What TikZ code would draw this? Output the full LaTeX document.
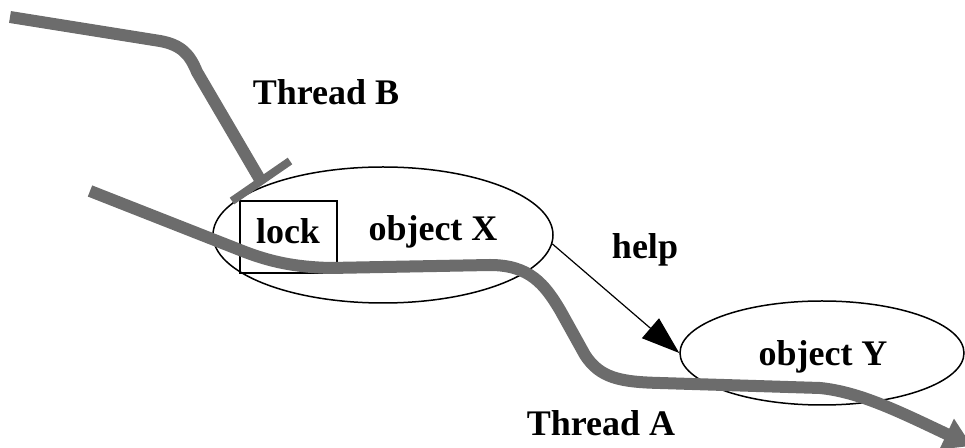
\documentclass[tikz,border=0pt]{standalone}
\usepackage{fontspec}
\setmainfont{Liberation Serif}
\usetikzlibrary{shapes.geometric,arrows.meta}
\definecolor{thread}{RGB}{108,108,108}
\begin{document}
\begin{tikzpicture}[x=0.5pt,y=-0.5pt,
  lbl/.style={font=\bfseries\fontsize{18}{21}\selectfont, inner sep=0pt},
  obj/.style={draw, ellipse, line width=0.75pt, fill=white, inner sep=0pt},
  thr/.style={draw=thread, line width=6pt, line join=round},
  helparrow/.style={line width=0.6pt, -{Triangle[length=19pt,width=13pt]}}]
\useasboundingbox (0,0) rectangle (965,448);
% objects
\node[obj, minimum width=170pt, minimum height=68pt] (objX) at (383,235) {};
\node[draw, line width=0.75pt, minimum width=48.5pt, minimum height=36pt, inner sep=0pt] (lockbox) at (288.5,237) {};
\node[lbl] (lock) at (288,231) {lock};
\node[lbl] (xlabel) at (433,232) {object X};
\node[obj, minimum width=142pt, minimum height=52pt] (objY) at (822,353) {};
\node[lbl] (ylabel) at (823,357) {object Y};
% labels
\node[lbl] (tB) at (326,92) {Thread B};
\node[lbl] (tA) at (601,423) {Thread A};
\node[lbl] (help) at (645,250) {help};
% help arrow
\draw[helparrow] (objX.-3) -- (objY.west);
% thread B (blocked)
\coordinate (bStart) at (10,17);
\coordinate (bEnd) at (262,183);
\coordinate (barL) at (232,201);
\coordinate (barR) at (290,161);
\draw[thr] (bStart) -- (160,41) .. controls (182,45) and (190,55) .. (197,72) -- (bEnd);
\draw[thread, line width=4pt] (barL) -- (barR);
% thread A
\coordinate (aStart) at (90,191);
\coordinate (aEnd) at (972,446);
\draw[thr, -{Triangle[length=14pt,width=16pt]}] (aStart) -- (240,250) .. controls (270,262) and (295,267) .. (330,268) -- (490,265) .. controls (530,265) and (545,285) .. (560,310) -- (585,355) .. controls (600,378) and (620,382) .. (660,383) -- (820,388) .. controls (860,392) and (900,412) .. (aEnd);
\end{tikzpicture}
\end{document}
